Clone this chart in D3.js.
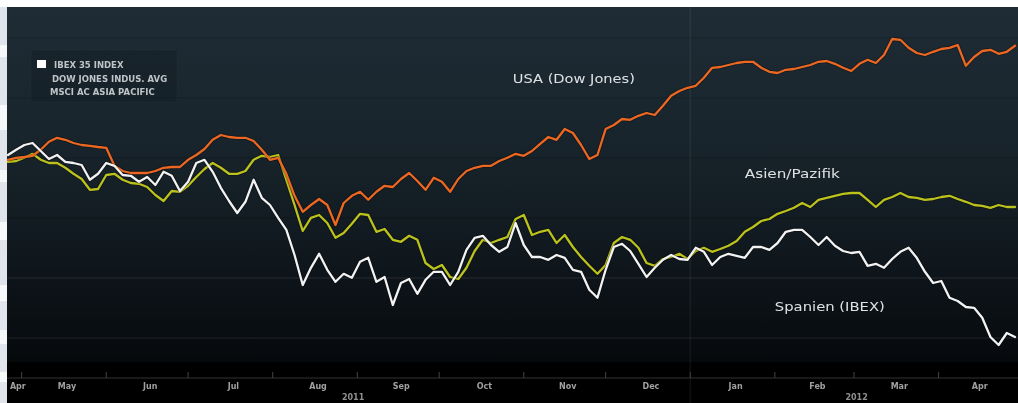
<!DOCTYPE html>
<html><head><meta charset="utf-8">
<script src="https://cdn.jsdelivr.net/npm/d3@7"></script>
<style>html,body{margin:0;padding:0;background:#fff;overflow:hidden}</style>
</head><body><svg id="c" width="1018" height="403"></svg>
<script>
// ---- data (relative index) ----
const startDate = new Date(Date.UTC(2011, 3, 26));
const stepDays = 3;
const ibex = [100.5,101.8,103,103.5,101.5,99.5,100.5,98.8,98.5,98,94.3,95.8,98.5,97.8,95.5,95.3,93.8,95,93,96.3,
  95.3,91.5,93.8,98.5,99.3,96.3,92.3,89,86,88.8,94.3,89.8,88,84.8,81.8,75.5,68,72.3,75.8,71.8,
  68.8,70.8,69.8,73.8,74.8,68.8,70,63,68.5,69.5,65.8,69.3,71.3,71.3,68,71.3,76.8,79.8,80.3,78,
  76.3,77.5,83.5,78,75,75,74.3,75.5,74.8,71.8,71.3,66.8,64.8,71.8,77.5,78.3,76.5,73.3,70,72.3,
  74.3,75.5,74.5,74.3,77.3,76.3,73,75,75.8,75.3,74.8,77.5,77.5,76.8,78.5,81.3,81.8,81.8,80,78,
  80,77.8,76.5,76,76.3,72.8,73.3,72.3,74.5,76.3,77.3,74.8,71.3,68.5,69,64.8,64,62.5,62.3,59.8,
  55,53,56,55];
const dow = [99.3,99.8,100,100.3,101.8,103.8,104.8,104.3,103.5,103,102.8,102.5,102.3,97.8,96.5,96,96,96,96.5,97.3,
  97.5,97.5,99.3,100.5,102,104.3,105.5,105,104.8,104.8,104,101.8,99.3,99.8,95.8,90.3,86.3,88,89.5,88,
  83,88.5,90.3,91.3,89.3,91.3,92.8,92.5,94.5,96,94,91.8,94.8,93.8,91.3,94.5,96.5,97.3,97.8,97.8,
  99,99.8,100.8,100.3,101.5,103.3,105,104.3,107,106,103,99.5,100.5,107,108,109.5,109.3,110.3,111,110.5,
  112.8,115.3,116.5,117.3,117.8,119.8,122.3,122.5,123,123.5,123.8,123.8,122.3,121.3,121,121.8,122,122.5,123,123.8,
  124,123.3,122.3,121.5,123.3,124.3,123.5,125.5,129.5,129.3,127.3,126,125.5,126.3,127,127.3,128,122.8,125,126.5,
  126.8,125.8,126.3,127.8];
const asia = [98.8,99,99.8,100.8,99.3,98.5,98.5,97.3,95.8,94.5,91.8,92,95.5,95.8,94.3,93.5,93.3,92.5,90.5,89,
  91.5,91.3,92.8,95,97,98.5,97.3,95.8,95.8,96.5,99.3,100.3,100,100.5,94.3,88,81.5,84.8,85.5,83.5,
  79.8,81,83.3,85.8,85.5,81.3,82,79.3,78.8,80.3,79.3,73.5,72,73,70,69.5,72.3,76.5,79.3,78.5,
  79.3,80,84.5,85.5,80.5,81.3,81.8,78.5,80.5,77.5,75,72.8,70.8,73,78.5,80,79.3,77.3,73.5,72.8,
  74.5,75,75.8,74.5,76.5,77.3,76.3,77,77.8,79,81.3,82.5,84,84.5,85.8,86.5,87.3,88.5,87.5,89.3,
  89.8,90.3,90.8,91,91,89.3,87.5,89.3,90,91,90,89.8,89.3,89.5,90,90.3,89.5,88.8,88,87.8,
  87.3,88,87.5,87.5];
const monthLabels = ["Apr","May","Jun","Jul","Aug","Sep","Oct","Nov","Dec","Jan","Feb","Mar","Apr"];
const yearLabels = ["2011","2012"];
const legendLabels = ["IBEX 35 INDEX","DOW JONES INDUS. AVG","MSCI AC ASIA PACIFIC"];
const seriesNames = ["USA (Dow Jones)","Asien/Pazifik","Spanien (IBEX)"];
const seriesColors = ["#ec6822","#bcc21c","#f2f2f2"];
// annotation anchors: [day offset from start, index value]
const annoDays = [185, 270, 281];
const annoValues = [118.5, 94.8, 61.5];
const annoWidths = [122, 95, 110];
const gridValues = [54.75, 69.75, 84.75, 99.75, 114.75, 129.75];

const dates = ibex.map((_, i) => d3.utcDay.offset(startDate, i * stepDays));
const endDate = d3.utcDay.offset(startDate, 369);

const svg = d3.select("#c");
const W = 1018, H = 403;
const plotL = 7, plotT = 7, plotB = 362;

const x = d3.scaleUtc().domain([startDate, endDate]).range([8, 1015]);
const y = d3.scaleLinear().domain([49, 137.5]).range([361, 7]);

// background
const defs = svg.append("defs");
const g1 = defs.append("linearGradient").attr("id","bg").attr("x1",0).attr("y1",0).attr("x2",0).attr("y2",1);
[[0,"#1f2c35"],[0.35,"#19252d"],[0.65,"#111a20"],[0.88,"#0a0f13"],[1,"#06090c"]]
  .forEach(([o,c]) => g1.append("stop").attr("offset",o).attr("stop-color",c));
const blur = defs.append("filter").attr("id","soft").attr("x","-5%").attr("y","-20%").attr("width","110%").attr("height","140%");
blur.append("feGaussianBlur").attr("stdDeviation",0.45);

svg.append("rect").attr("x",0).attr("y",0).attr("width",W).attr("height",H).attr("fill","#ffffff");
svg.append("rect").attr("x",0).attr("y",plotT).attr("width",plotL).attr("height",H-plotT).attr("fill","#dfe5eb");
[[45,12],[105,25],[170,12],[222,18],[285,16],[330,14],[372,10]].forEach(([yy,hh]) =>
  svg.append("rect").attr("x",0).attr("y",yy).attr("width",plotL).attr("height",hh).attr("fill","#f6f8fa"));
svg.append("rect").attr("x",plotL).attr("y",plotT).attr("width",W-plotL).attr("height",plotB-plotT).attr("fill","url(#bg)");
svg.append("rect").attr("x",plotL).attr("y",plotB).attr("width",W-plotL).attr("height",H-plotB).attr("fill","#000");

// gridlines
svg.append("g").selectAll("line").data(gridValues).join("line")
  .attr("x1",plotL).attr("x2",W).attr("y1",d=>y(d)).attr("y2",d=>y(d))
  .attr("stroke",(d,i)=> i<2 ? "#ffffff" : "#000000")
  .attr("stroke-opacity",(d,i)=> i<2 ? 0.07 : 0.12).attr("stroke-width",1.5);

// year divider
const yearStarts = d3.utcYear.range(d3.utcDay.offset(startDate,1), endDate);
svg.append("g").selectAll("line").data(yearStarts).join("line")
  .attr("x1",d=>x(d)).attr("x2",d=>x(d)).attr("y1",plotT).attr("y2",H)
  .attr("stroke","#ffffff").attr("stroke-opacity",0.06).attr("stroke-width",1.5);

// x axis line + ticks
svg.append("line").attr("x1",plotL).attr("x2",W).attr("y1",378).attr("y2",378)
  .attr("stroke","#333").attr("stroke-width",1.2);
const months = d3.utcMonth.range(d3.utcMonth.floor(startDate), endDate);
svg.append("g").selectAll("line").data(months.filter(m => m > startDate)).join("line")
  .attr("x1",d=>x(d)).attr("x2",d=>x(d)).attr("y1",372).attr("y2",378)
  .attr("stroke","#444").attr("stroke-width",1);
svg.append("g").attr("filter","url(#soft)").selectAll("text").data(months).join("text")
  .attr("x", d => {
    const a = d < startDate ? startDate : d;
    const n = d3.utcMonth.offset(d,1);
    const b = n > endDate ? endDate : n;
    return (x(a)+x(b))/2 + 3;
  })
  .attr("y",389).attr("text-anchor","middle")
  .attr("font-family","DejaVu Sans, sans-serif").attr("font-size",8).attr("font-weight","bold")
  .attr("fill","#a0a0a0").text((d,i)=>monthLabels[i]);
const years = d3.utcYear.range(d3.utcYear.floor(startDate), endDate);
svg.append("g").attr("filter","url(#soft)").selectAll("text").data(years).join("text")
  .attr("x", d => {
    const a = d < startDate ? startDate : d;
    const n = d3.utcYear.offset(d,1);
    const b = n > endDate ? endDate : n;
    return (x(a)+x(b))/2 + 4;
  })
  .attr("y",400).attr("text-anchor","middle")
  .attr("font-family","DejaVu Sans, sans-serif").attr("font-size",8).attr("font-weight","bold")
  .attr("fill","#909090").text((d,i)=>yearLabels[i]);

// lines
const line = d3.line().x((d,i)=>x(dates[i])).y(d=>y(d));
const order = [[asia,1],[dow,0],[ibex,2]];
order.forEach(([vals,ci]) => {
  svg.append("path").datum(vals).attr("d",line).attr("fill","none")
    .attr("stroke","#000").attr("stroke-opacity",0.3).attr("stroke-width",4)
    .attr("stroke-linejoin","round");
  svg.append("path").datum(vals).attr("d",line).attr("fill","none")
    .attr("stroke",seriesColors[ci]).attr("stroke-width",2.3)
    .attr("stroke-linejoin","round").attr("stroke-linecap","round");
});

// legend
svg.append("rect").attr("x",31).attr("y",50).attr("width",146).attr("height",52)
  .attr("fill","#0c161d").attr("fill-opacity",0.3)
  .attr("stroke","#3a4852").attr("stroke-opacity",0.35).attr("stroke-dasharray","1,2");
svg.append("rect").attr("x",37).attr("y",60).attr("width",9).attr("height",8).attr("fill","#ffffff");
const legX = [54,52,50];
svg.append("g").attr("filter","url(#soft)").selectAll("text").data(legendLabels).join("text")
  .attr("x",(d,i)=>legX[i]).attr("y",(d,i)=>68+i*13.5)
  .attr("font-family","DejaVu Sans, sans-serif").attr("font-size",8.5).attr("font-weight","bold")
  .attr("fill","#bfc4c8").text(d=>d);

// series annotations
svg.append("g").attr("filter","url(#soft)").selectAll("text").data(seriesNames).join("text")
  .attr("x",(d,i)=>x(d3.utcDay.offset(startDate, annoDays[i])))
  .attr("y",(d,i)=>y(annoValues[i]))
  .attr("font-family","DejaVu Sans, sans-serif").attr("font-size",13)
  .attr("textLength",(d,i)=>annoWidths[i]).attr("lengthAdjust","spacingAndGlyphs")
  .attr("fill","#dde1e4").text(d=>d);
</script>
</body></html>
